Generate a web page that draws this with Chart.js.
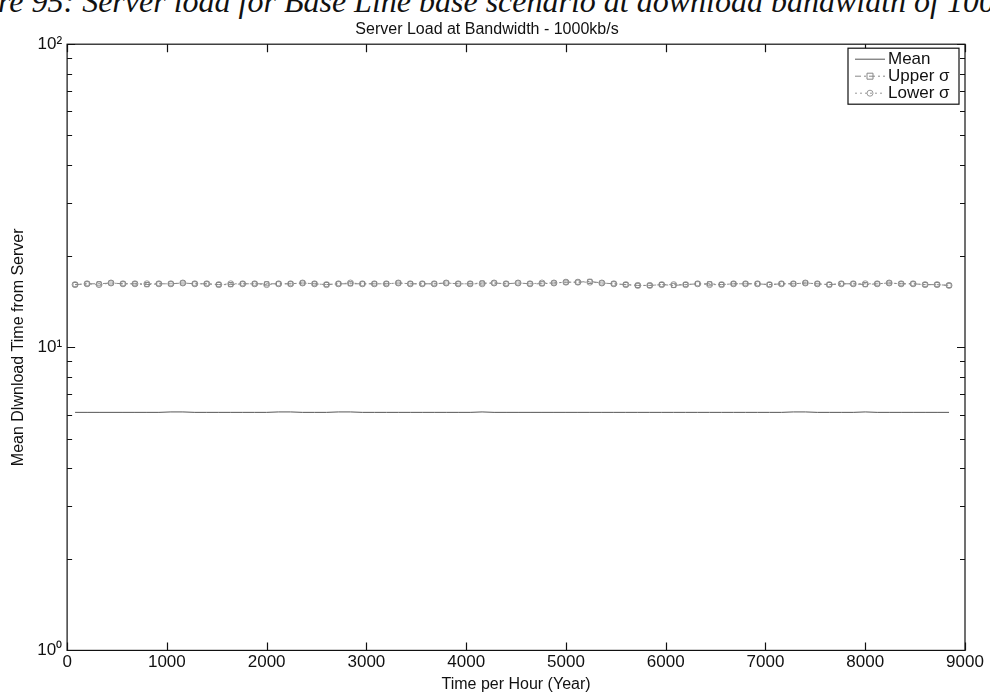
<!DOCTYPE html>
<html>
<head>
<meta charset="utf-8">
<script src="https://cdn.jsdelivr.net/npm/chart.js@4.4.1/dist/chart.umd.min.js"></script>
<style>
  body { margin: 0; background: #fff; overflow: hidden; }
  #wrap { position: relative; width: 990px; height: 696px; overflow: hidden; }
  #caption {
    position: absolute; left: -2px; top: -17px; white-space: nowrap;
    font: italic 32px "Liberation Serif", "DejaVu Serif", serif; color: #111;
  }
  canvas { position: absolute; left: 0; top: 0; }
</style>
</head>
<body>
<div id="wrap">
  <div id="caption">re 95: Server load for Base Line base scenario at download bandwidth of 1000kb/s</div>
  <canvas id="chart" width="990" height="696"></canvas>
</div>
<script>
// hours of the year where a sample was plotted
var hours = [80, 200, 320, 440, 560, 680, 800, 920, 1040, 1160, 1280, 1400, 1520, 1640, 1760, 1880,
  2000, 2120, 2240, 2360, 2480, 2600, 2720, 2840, 2960, 3080, 3200, 3320, 3440, 3560, 3680, 3800,
  3920, 4040, 4160, 4280, 4400, 4520, 4640, 4760, 4880, 5000, 5120, 5240, 5360, 5480, 5600, 5720,
  5840, 5960, 6080, 6200, 6320, 6440, 6560, 6680, 6800, 6920, 7040, 7160, 7280, 7400, 7520, 7640,
  7760, 7880, 8000, 8120, 8240, 8360, 8480, 8600, 8720, 8840];

var meanVals = [6.1, 6.1, 6.1, 6.1, 6.1, 6.1, 6.1, 6.1, 6.12, 6.12, 6.1, 6.1, 6.1, 6.1, 6.1, 6.1,
  6.1, 6.12, 6.12, 6.1, 6.1, 6.1, 6.12, 6.12, 6.1, 6.1, 6.1, 6.1, 6.1, 6.1, 6.1, 6.1,
  6.1, 6.1, 6.12, 6.1, 6.1, 6.1, 6.1, 6.1, 6.1, 6.1, 6.1, 6.1, 6.1, 6.1, 6.1, 6.1,
  6.1, 6.1, 6.1, 6.1, 6.1, 6.1, 6.1, 6.1, 6.1, 6.1, 6.1, 6.1, 6.12, 6.12, 6.1, 6.1,
  6.1, 6.1, 6.12, 6.1, 6.1, 6.1, 6.1, 6.1, 6.1, 6.1];

var upperVals = [16.1, 16.2, 16.2, 16.3, 16.2, 16.2, 16.1, 16.2, 16.2, 16.3, 16.2, 16.2, 16.1, 16.1, 16.2, 16.2,
  16.2, 16.2, 16.2, 16.3, 16.2, 16.1, 16.2, 16.2, 16.2, 16.2, 16.2, 16.3, 16.2, 16.2, 16.2, 16.3,
  16.2, 16.2, 16.3, 16.3, 16.2, 16.3, 16.2, 16.2, 16.3, 16.4, 16.4, 16.5, 16.3, 16.2, 16.1, 16.0,
  16.0, 16.1, 16.0, 16.1, 16.2, 16.2, 16.1, 16.2, 16.2, 16.2, 16.1, 16.2, 16.2, 16.3, 16.2, 16.1,
  16.2, 16.2, 16.1, 16.2, 16.3, 16.2, 16.2, 16.1, 16.1, 16.0];

var lowerVals = [16.1, 16.2, 16.1, 16.3, 16.2, 16.2, 16.2, 16.2, 16.2, 16.3, 16.2, 16.2, 16.1, 16.2, 16.2, 16.2,
  16.1, 16.2, 16.2, 16.3, 16.2, 16.1, 16.2, 16.3, 16.2, 16.2, 16.2, 16.3, 16.2, 16.2, 16.2, 16.3,
  16.2, 16.2, 16.2, 16.3, 16.2, 16.3, 16.2, 16.3, 16.3, 16.4, 16.4, 16.4, 16.3, 16.2, 16.1, 16.0,
  16.0, 16.1, 16.1, 16.1, 16.2, 16.1, 16.1, 16.2, 16.2, 16.2, 16.1, 16.2, 16.2, 16.3, 16.2, 16.1,
  16.2, 16.2, 16.2, 16.2, 16.3, 16.2, 16.2, 16.1, 16.1, 16.0];

var xTicks = [0, 1000, 2000, 3000, 4000, 5000, 6000, 7000, 8000, 9000];
var yTicks = [1, 10, 100];
var yTickText = ['10\u2070', '10\u00b9', '10\u00b2'];
var yMinor = [2, 3, 4, 5, 6, 7, 8, 9, 20, 30, 40, 50, 60, 70, 80, 90];

var seriesNames = ['Mean', 'Upper \u03c3', 'Lower \u03c3'];

function pts(vals) {
  return vals.map(function(v, i) { return { x: hours[i], y: v }; });
}

var FONT = 'Liberation Sans, Arial, Helvetica, sans-serif';

// box, inward ticks and legend, matlab style
var matlabAxes = {
  id: 'matlabAxes',
  afterDraw: function(chart) {
    var ctx = chart.ctx, a = chart.chartArea;
    var xs = chart.scales.x, ys = chart.scales.y;
    ctx.save();
    ctx.strokeStyle = '#111';
    ctx.lineWidth = 1.2;
    ctx.strokeRect(a.left, a.top, a.right - a.left, a.bottom - a.top);
    ctx.beginPath();
    xTicks.forEach(function(t) {
      var px = Math.round(xs.getPixelForValue(t)) + 0.5;
      ctx.moveTo(px, a.bottom); ctx.lineTo(px, a.bottom - 8);
      ctx.moveTo(px, a.top); ctx.lineTo(px, a.top + 8);
    });
    yTicks.forEach(function(t) {
      var py = Math.round(ys.getPixelForValue(t)) + 0.5;
      ctx.moveTo(a.left, py); ctx.lineTo(a.left + 8, py);
      ctx.moveTo(a.right, py); ctx.lineTo(a.right - 8, py);
    });
    yMinor.forEach(function(t) {
      var py = Math.round(ys.getPixelForValue(t)) + 0.5;
      ctx.moveTo(a.left, py); ctx.lineTo(a.left + 5, py);
      ctx.moveTo(a.right, py); ctx.lineTo(a.right - 5, py);
    });
    ctx.stroke();

    // legend box
    var lw = 111, lh = 56;
    var lx = a.right - lw - 6, ly = a.top + 4;
    ctx.fillStyle = '#fff';
    ctx.fillRect(lx, ly, lw, lh);
    ctx.strokeRect(lx, ly, lw, lh);
    ctx.font = '17px ' + FONT;
    ctx.textBaseline = 'middle';
    chart.data.datasets.forEach(function(ds, i) {
      var ry = ly + 11 + i * 17;
      ctx.strokeStyle = ds.borderColor;
      ctx.lineWidth = 1;
      ctx.setLineDash(ds.borderDash || []);
      ctx.beginPath();
      ctx.moveTo(lx + 7, ry); ctx.lineTo(lx + 37, ry);
      ctx.stroke();
      ctx.setLineDash([]);
      if (ds.pointRadius > 0) {
        ctx.beginPath();
        if (ds.pointStyle === 'rect') ctx.rect(lx + 19, ry - 3, 6, 6);
        else ctx.arc(lx + 22, ry, 3, 0, Math.PI * 2);
        ctx.stroke();
      }
      ctx.fillStyle = '#111';
      ctx.fillText(seriesNames[i], lx + 40, ry);
    });
    ctx.restore();
  }
};

new Chart(document.getElementById('chart'), {
  type: 'line',
  data: {
    datasets: [
      { label: seriesNames[0], data: pts(meanVals), borderColor: '#555', borderWidth: 1,
        pointRadius: 0, fill: false, tension: 0 },
      { label: seriesNames[1], data: pts(upperVals), borderColor: '#888', borderWidth: 1,
        borderDash: [6, 3, 2, 3], pointStyle: 'rect', pointRadius: 3, pointBorderWidth: 1,
        pointBorderColor: '#888', pointBackgroundColor: 'rgba(0,0,0,0)', fill: false, tension: 0 },
      { label: seriesNames[2], data: pts(lowerVals), borderColor: '#999', borderWidth: 1,
        borderDash: [2, 3], pointStyle: 'circle', pointRadius: 3, pointBorderWidth: 1,
        pointBorderColor: '#999', pointBackgroundColor: 'rgba(0,0,0,0)', fill: false, tension: 0 }
    ]
  },
  options: {
    responsive: false,
    animation: false,
    layout: { padding: { left: 9, right: 25, top: 15, bottom: 0 } },
    plugins: {
      legend: { display: false },
      tooltip: { enabled: false },
      title: {
        display: true, text: 'Server Load at Bandwidth - 1000kb/s', color: '#111',
        font: { family: FONT, size: 16, weight: 'normal' }, padding: { top: 5, bottom: 5 }
      }
    },
    scales: {
      x: {
        type: 'linear', min: 0, max: 9000,
        afterBuildTicks: function(axis) { axis.ticks = xTicks.map(function(v) { return { value: v }; }); },
        ticks: { color: '#111', font: { family: FONT, size: 17 }, maxRotation: 0, padding: 2,
          callback: function(v) { return String(v); } },
        grid: { display: false, drawTicks: false },
        border: { display: false },
        title: { display: true, text: 'Time per Hour (Year)', color: '#111',
          font: { family: FONT, size: 16 }, padding: { top: 0, bottom: 2 } }
      },
      y: {
        type: 'logarithmic', min: 1, max: 100,
        afterBuildTicks: function(axis) { axis.ticks = yTicks.map(function(v) { return { value: v }; }); },
        ticks: {
          color: '#111', font: { family: FONT, size: 17 }, padding: 5,
          callback: function(v) { return yTickText[yTicks.indexOf(v)]; }
        },
        grid: { display: false, drawTicks: false },
        border: { display: false },
        title: { display: true, text: 'Mean Dlwnload Time from Server', color: '#111',
          font: { family: FONT, size: 16 }, padding: { top: 0, bottom: 4 } }
      }
    }
  },
  plugins: [matlabAxes]
});
</script>
</body>
</html>
